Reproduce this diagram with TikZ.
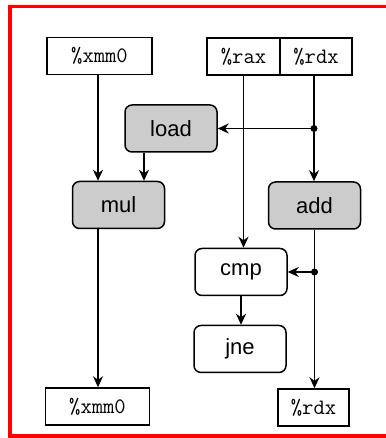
\documentclass[tikz,border=0pt]{standalone}
\usepackage{fontspec}
\newfontfamily\insfont{Liberation Sans}
\usepackage{tikz}
\usetikzlibrary{arrows.meta, positioning}

\tikzset{
    reg/.style={draw, line width=1.5pt, minimum height=37pt, inner sep=0pt,
        font=\ttfamily\fontsize{22}{24}\selectfont},
    ins/.style={draw, line width=1.5pt, rounded corners=7pt, minimum width=92pt,
        minimum height=47pt, inner sep=0pt, font=\insfont\fontsize{22}{24}\selectfont},
    busy/.style={ins, fill=gray!40},
    arr/.style={line width=1.8pt, -{Stealth[length=11pt, width=10pt]}},
    dot/.style={circle, fill, inner sep=0pt, minimum size=7pt}
}

\begin{document}
\begin{tikzpicture}[x=1pt, y=1pt]
        \useasboundingbox (0,0) rectangle (385,438);
        \draw[red, line width=3.5pt] (386,431.5) -- (10,431.5) -- (10,2) -- (386,2);

        % registers read at the top
        \node[reg, minimum width=105pt] (xmmin) at (99.5,382) {\%xmm0};
        \node[reg, minimum width=73pt] (rax) at (243.5,381.5) {\%rax};
        \node[reg, minimum width=72pt] (rdx) at (316,381.5) {\%rdx};

        % operations
        \node[busy] (load) at (171,309.5) {load};
        \node[busy] (mul) at (118.5,233) {mul};
        \node[busy] (add) at (314.5,232.5) {add};
        \node[ins] (cmp) at (241,166) {cmp};
        \node[ins] (jne) at (240,89) {jne};

        % registers written at the bottom
        \node[reg, minimum width=104pt] (xmmout) at (97.5,31.5) {\%xmm0};
        \node[reg, minimum width=71pt] (rdxout) at (313.5,30.5) {\%rdx};

        \draw[arr] ([xshift=-1.5pt]xmmin.south) -- ([xshift=-1.5pt]xmmin.south |- mul.north);
        \draw[arr] ([xshift=-27pt]load.south) -- ([xshift=-27pt]load.south |- mul.north);
        \draw[arr] ([xshift=-1.5pt]xmmin.south |- mul.south) -- ([xshift=-1.5pt]xmmin.south |- xmmout.north);

        \draw[arr] (rax.south) -- (rax.south |- cmp.north);
        \node[dot] (fork1) at ([xshift=-2pt]rdx.south |- load.east) {};
        \draw[arr] ([xshift=-2pt]rdx.south) -- ([xshift=-2pt]rdx.south |- add.north);
        \draw[arr] (fork1.center) -- (load.east);

        \node[dot] (fork2) at (add.south |- cmp.east) {};
        \draw[arr] (add.south) -- (add.south |- rdxout.north);
        \draw[arr] (fork2.center) -- (cmp.east);
        \draw[arr] (cmp.south) -- (cmp.south |- jne.north);
\end{tikzpicture}
\end{document}
